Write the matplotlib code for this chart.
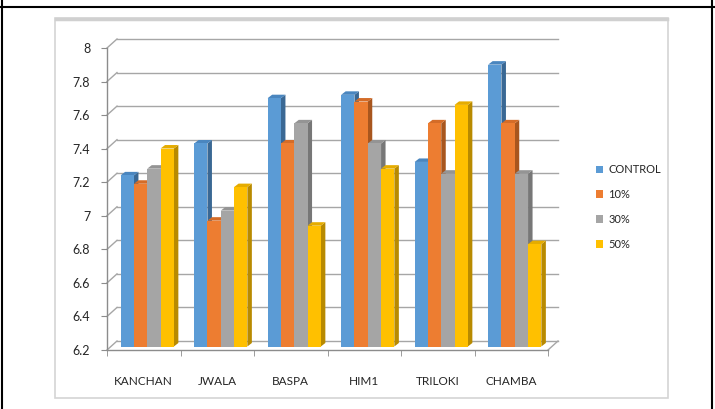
import matplotlib
matplotlib.use("Agg")
import matplotlib.pyplot as plt
from matplotlib.patches import Patch, Rectangle
from matplotlib.lines import Line2D
import numpy as np

plt.rcParams['font.family'] = ['Lato', 'DejaVu Sans']

categories = ["KANCHAN", "JWALA", "BASPA", "HIM1", "TRILOKI", "CHAMBA"]
series_names = ["CONTROL", "10%", "30%", "50%"]
control = [7.22, 7.41, 7.68, 7.70, 7.30, 7.88]
pct10 = [7.17, 6.95, 7.41, 7.66, 7.53, 7.53]
pct30 = [7.26, 7.01, 7.53, 7.41, 7.23, 7.23]
pct50 = [7.38, 7.15, 6.92, 7.26, 7.64, 6.81]
series = [control, pct10, pct30, pct50]
y_ticks = [6.2, 6.4, 6.6, 6.8, 7.0, 7.2, 7.4, 7.6, 7.8, 8.0]
y_tick_labels = ["6.2", "6.4", "6.6", "6.8", "7", "7.2", "7.4", "7.6", "7.8", "8"]

colors = ["#5B9BD5", "#ED7D31", "#A5A5A5", "#FFC000"]
topc = ["#4A86BF", "#D46C28", "#949494", "#E5AC00"]
sidec = ["#3A6894", "#A8561E", "#777777", "#B88A00"]

W, H = 715, 409
fig = plt.figure(figsize=(W / 100, H / 100), dpi=100)

def fx(px):
    return px / W

def fy(py):
    return 1 - py / H

# outer frame (table cell)
fig.add_artist(Line2D([0, 1], [fy(7), fy(7)], color="black", lw=1.5))
fig.add_artist(Line2D([fx(2), fx(2)], [0, 1], color="black", lw=1.5))
fig.add_artist(Line2D([fx(712), fx(712)], [0, 1], color="black", lw=1.5))
# chart box
fig.add_artist(Rectangle((fx(55), fy(398)), fx(668) - fx(55), fy(18) - fy(398),
                         fill=False, edgecolor="#D4D4D4", lw=1.2))
fig.add_artist(Line2D([fx(56), fx(667)], [fy(19), fy(19)], color="#D0D0D0", lw=2.5))

ax_px_w, ax_px_h = 441, 302
ax = fig.add_axes([fx(107), fy(350), fx(548) - fx(107), fy(48) - fy(350)])
ax.set_xlim(-0.5, 5.5)
ax.set_ylim(6.2, 8.0)
for s in ax.spines.values():
    s.set_visible(False)

PX = 6.0 / ax_px_w    # data units per pixel, x
PY = 1.8 / ax_px_h    # data units per pixel, y

# back wall / floor
DX, DY = 10 * PX, 9 * PY
gcol = "#A6A6A6"
for yv in y_ticks:
    ax.plot([-0.5 + DX, 5.5 + DX], [yv + DY, yv + DY], color=gcol, lw=1.0, zorder=0.5, clip_on=False)
    ax.plot([-0.5, -0.5 + DX], [yv, yv + DY], color=gcol, lw=1.0, zorder=0.5, clip_on=False)
ax.plot([5.5, 5.5 + DX], [6.2, 6.2 + DY], color=gcol, lw=1.0, zorder=0.5, clip_on=False)
ax.plot([-0.5, 5.5], [6.2, 6.2], color="#8C8C8C", lw=1.0, zorder=0.6, clip_on=False)
ax.plot([-0.5, -0.5], [6.2, 8.0], color="#8C8C8C", lw=1.0, zorder=0.6, clip_on=False)

x = np.arange(len(categories))
bw = 0.181
offs = [-1.5 * bw, -0.5 * bw, 0.5 * bw, 1.5 * bw]
sx, sy = 3.5 * PX, 3.5 * PY      # bar front plane shift
ddx, ddy = 4.5 * PX, 3.5 * PY    # bar depth
base = 6.2
z = 2.0
for i, vals in enumerate(series):
    for j, v in enumerate(vals):
        x0 = x[j] + offs[i] - bw / 2 + sx
        x1 = x0 + bw
        b = base + sy
        t = v + sy
        # side face
        ax.fill([x1, x1 + ddx, x1 + ddx, x1], [b, b + ddy, t + ddy, t],
                color=sidec[i], lw=0, zorder=z, clip_on=False)
        # top face
        ax.fill([x0, x0 + ddx, x1 + ddx, x1], [t, t + ddy, t + ddy, t],
                color=topc[i], lw=0, zorder=z, clip_on=False)
        z += 0.01
    ax.bar(x + offs[i] + sx, [v - base for v in vals], width=bw, bottom=base + sy,
           color=colors[i], zorder=z, clip_on=False, linewidth=0, label=series_names[i])
    z += 0.01

ax.set_yticks(y_ticks)
ax.set_yticklabels(y_tick_labels, fontsize=9, color="#262626")
ax.tick_params(axis="y", length=4, color="#8C8C8C", pad=8)
ax.set_xticks(x)
ax.set_xticklabels(categories, fontsize=8.5, color="#262626")
ax.tick_params(axis="x", which="major", length=0, pad=19)
ax.set_xticks(np.arange(-0.5, 6.0, 1.0), minor=True)
ax.tick_params(axis="x", which="minor", length=4, color="#8C8C8C")
ax.set_facecolor("none")

handles = [Patch(facecolor=c, edgecolor="none") for c in colors]
fig.legend(handles, series_names, loc="center left",
           bbox_to_anchor=(fx(586), fy(207)), frameon=False,
           fontsize=8, handlelength=0.65, handleheight=0.65,
           handletextpad=0.45, labelspacing=1.25, labelcolor="#262626")

fig.savefig("out.png", dpi=100)
